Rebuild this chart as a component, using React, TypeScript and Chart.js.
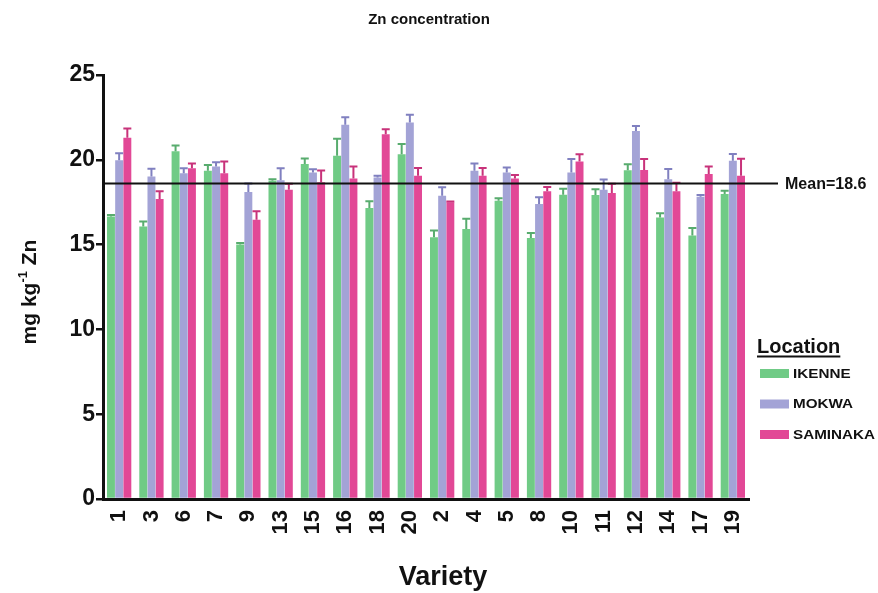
import React, { useEffect, useRef } from "react";
import { Chart, registerables } from "chart.js";

Chart.register(...registerables);

const categories = ["1", "3", "6", "7", "9", "13", "15", "16", "18", "20", "2", "4", "5", "8", "10", "11", "12", "14", "17", "19"];
const ikenne = [16.65, 16.06, 20.5, 19.35, 15.0, 18.76, 19.75, 20.24, 17.16, 20.33, 15.43, 15.92, 17.59, 15.39, 17.94, 17.92, 19.39, 16.6, 15.53, 17.98];
const ikenneErr = [0.1, 0.3, 0.35, 0.35, 0.1, 0.1, 0.33, 1.0, 0.4, 0.6, 0.4, 0.6, 0.15, 0.3, 0.35, 0.35, 0.35, 0.25, 0.45, 0.2];
const mokwa = [19.98, 19.02, 19.2, 19.6, 18.1, 18.8, 19.25, 22.06, 18.96, 22.2, 17.88, 19.35, 19.25, 17.39, 19.25, 18.24, 21.7, 18.86, 17.82, 19.94];
const mokwaErr = [0.4, 0.45, 0.3, 0.26, 0.5, 0.7, 0.2, 0.45, 0.1, 0.45, 0.5, 0.43, 0.3, 0.4, 0.8, 0.6, 0.3, 0.6, 0.1, 0.4];
const saminaka = [21.3, 17.69, 19.5, 19.2, 16.47, 18.24, 18.67, 18.9, 21.5, 19.06, 17.49, 19.06, 18.9, 18.14, 19.9, 18.04, 19.4, 18.14, 19.16, 19.06];
const saminakaErr = [0.55, 0.45, 0.28, 0.7, 0.5, 0.35, 0.7, 0.7, 0.3, 0.45, 0.05, 0.45, 0.2, 0.25, 0.43, 0.55, 0.64, 0.5, 0.45, 1.0];
const seriesNames = ["IKENNE", "MOKWA", "SAMINAKA"];
const meanValue = 18.6;
const yTicks = [0, 5, 10, 15, 20, 25];

const FONT = "'Liberation Sans', Arial, Helvetica, sans-serif";
const colors = ["rgb(112, 203, 134)", "rgb(163, 163, 214)", "rgb(226, 72, 150)"];
const errColors = ["rgb(88, 172, 110)", "rgb(128, 128, 192)", "rgb(200, 50, 122)"];
const errors = [ikenneErr, mokwaErr, saminakaErr];

const overlayPlugin = {
  id: "overlay",
  afterDatasetsDraw(chart: any) {
    const ctx = chart.ctx;
    const yScale = chart.scales.y;
    const area = chart.chartArea;
    ctx.save();
    chart.data.datasets.forEach((ds: any, i: number) => {
      const meta = chart.getDatasetMeta(i);
      meta.data.forEach((el: any, j: number) => {
        const v = ds.data[j];
        const top = yScale.getPixelForValue(v + errors[i][j]);
        ctx.strokeStyle = errColors[i];
        ctx.lineWidth = 2;
        ctx.beginPath();
        ctx.moveTo(el.x, el.y);
        ctx.lineTo(el.x, top);
        ctx.moveTo(el.x - 4, top);
        ctx.lineTo(el.x + 4, top);
        ctx.stroke();
      });
    });
    const my = yScale.getPixelForValue(meanValue);
    ctx.strokeStyle = "#111";
    ctx.lineWidth = 2;
    ctx.beginPath();
    ctx.moveTo(area.left, my);
    ctx.lineTo(778, my);
    ctx.stroke();
    ctx.fillStyle = "#111";
    ctx.font = `bold 16px ${FONT}`;
    ctx.textAlign = "left";
    ctx.textBaseline = "middle";
    ctx.fillText("Mean=" + meanValue.toFixed(1), 785, my + 1);
    ctx.restore();
  },
  afterDraw(chart: any) {
    const ctx = chart.ctx;
    const area = chart.chartArea;
    ctx.save();
    ctx.fillStyle = "#111";
    ctx.font = `bold 15px ${FONT}`;
    ctx.textAlign = "center";
    ctx.textBaseline = "middle";
    ctx.fillText("Zn concentration", (area.left + area.right) / 2 + 3, 20);
    ctx.font = `bold 27px ${FONT}`;
    ctx.fillText("Variety", 443, 578);
    // y title with superscript
    ctx.save();
    ctx.translate(30, 292);
    ctx.rotate(-Math.PI / 2);
    ctx.textAlign = "left";
    ctx.textBaseline = "middle";
    const big = `bold 21px ${FONT}`;
    const small = `bold 13px ${FONT}`;
    ctx.font = big;
    const w1 = ctx.measureText("mg kg").width;
    const w3 = ctx.measureText(" Zn").width;
    ctx.font = small;
    const w2 = ctx.measureText("-1").width;
    let x = -(w1 + w2 + w3) / 2;
    ctx.font = big;
    ctx.fillText("mg kg", x, 0);
    x += w1;
    ctx.font = small;
    ctx.fillText("-1", x, -7);
    x += w2;
    ctx.font = big;
    ctx.fillText(" Zn", x, 0);
    ctx.restore();
    // legend
    ctx.textAlign = "left";
    ctx.textBaseline = "alphabetic";
    ctx.font = `bold 20px ${FONT}`;
    const lw = ctx.measureText("Location").width;
    ctx.fillText("Location", 757, 353);
    ctx.fillRect(757, 355.5, lw, 2);
    seriesNames.forEach((name, i) => {
      const cy = 373.5 + i * 30.5;
      ctx.fillStyle = colors[i];
      ctx.fillRect(760, cy - 4.5, 29, 9);
      ctx.fillStyle = "#111";
      ctx.save();
      ctx.translate(793, cy + 1);
      ctx.scale(1.27, 1);
      ctx.font = `bold 12px ${FONT}`;
      ctx.textBaseline = "middle";
      ctx.fillText(name, 0, 0);
      ctx.restore();
    });
    ctx.restore();
  },
};

export default function App() {
  const canvasRef = useRef<HTMLCanvasElement>(null);
  useEffect(() => {
    if (!canvasRef.current) return;
    const seriesData = [ikenne, mokwa, saminaka];
    const chart = new Chart(canvasRef.current, {
      type: "bar",
      data: {
        labels: categories,
        datasets: seriesNames.map((name, i) => ({
          label: name,
          data: seriesData[i],
          backgroundColor: colors[i],
          borderWidth: 0,
          barPercentage: 0.97,
          categoryPercentage: 0.76,
        })),
      },
      options: {
        animation: false,
        responsive: true,
        maintainAspectRatio: false,
        layout: { padding: { top: 75, right: 129, left: 0, bottom: 0 } },
        plugins: {
          legend: { display: false },
          title: { display: false },
          tooltip: { enabled: false },
        },
        scales: {
          x: {
            type: "category",
            offset: true,
            grid: { display: false },
            border: { display: true, color: "#111", width: 3 },
            ticks: {
              autoSkip: false,
              minRotation: 90,
              maxRotation: 90,
              padding: 3,
              color: "#111",
              font: { family: FONT, weight: "bold", size: 22 },
            },
            afterFit: (s: any) => {
              s.height = 94;
            },
          },
          y: {
            min: 0,
            max: 25,
            afterBuildTicks: (s: any) => {
              s.ticks = yTicks.map((v) => ({ value: v }));
            },
            grid: {
              display: true,
              drawOnChartArea: false,
              drawTicks: true,
              tickLength: 7,
              color: "#111",
              lineWidth: 2.5,
            },
            border: { display: true, color: "#111", width: 3 },
            ticks: {
              padding: 1,
              color: "#111",
              font: { family: FONT, weight: "bold", size: 23 },
            },
            afterFit: (s: any) => {
              s.width = 103;
            },
          },
        },
      } as any,
      plugins: [overlayPlugin],
    });
    return () => chart.destroy();
  }, []);
  return (
    <div style={{ position: "fixed", left: 0, top: 0, width: 878, height: 593, background: "#fff" }}>
      <canvas ref={canvasRef} />
    </div>
  );
}
